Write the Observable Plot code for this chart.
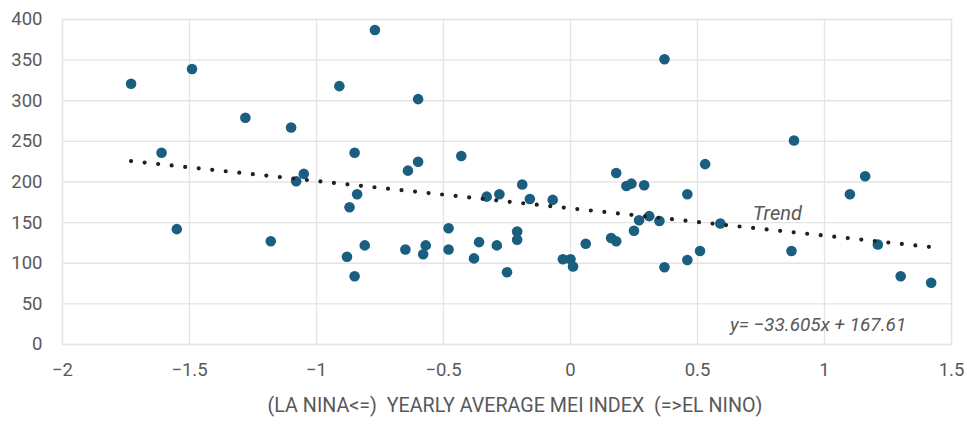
<!DOCTYPE html>
<html><head><meta charset="utf-8">
<script src="https://cdn.jsdelivr.net/npm/d3@7"></script>
<script src="https://cdn.jsdelivr.net/npm/@observablehq/plot@0.6"></script>
<style>
body{margin:0;background:#fff}
#chart svg{display:block}
</style></head><body><div id="chart"></div>
<script>
// Yearly average MEI index (x) and value (y)
const mei = [-1.73,-1.49,-1.28,-1.10,-1.61,-0.91,-0.77,-0.85,-1.05,-1.08,-0.84,-0.60,-0.64,-0.60,-0.43,-0.19,-0.28,-0.33,-0.16,-0.07,0.18,0.22,-0.87,-0.88,-0.81,-0.85,-0.65,-0.57,-0.58,-0.48,-0.48,-0.38,-0.36,-0.29,-0.25,-0.21,-0.21,-0.03,0.00,0.01,0.06,0.16,0.18,0.53,0.24,0.29,0.46,0.27,0.31,0.35,0.25,0.59,0.37,0.46,0.51,0.87,1.10,1.16,1.21,1.30,1.42,0.37,0.88,-1.55,-1.18];
const value = [321,339,279,267,236,318,387,236,210,201,185,302,214,225,232,197,185,182,179,178,211,195,169,108,122,84,117,122,111,143,117,106,126,122,89,139,129,105,105,96,124,131,127,222,198,196,185,153,158,152,140,149,95,104,115,115,185,207,123,84,76,351,251,142,127];
const xTicks = [-2,-1.5,-1,-0.5,0,0.5,1,1.5];
const yTicks = [0,50,100,150,200,250,300,350,400];
const trendSlope = -33.605;
const trendIntercept = 167.61;
const xLabel = "(LA NINA<=)  YEARLY AVERAGE MEI INDEX  (=>EL NINO)";
const trendLabel = "Trend";
const equationLabel = "y= \u221233.605x + 167.61";

const points = mei.map((x, i) => ({x, y: value[i]}));
const xr = d3.extent(mei);
const trend = xr.map(x => ({x, y: trendSlope * x + trendIntercept}));
const fmt = d => d < 0 ? "\u2212" + Math.abs(d) : String(d);
const gridColor = "#e4e4e4";
const textColor = "#595959";

const chart = Plot.plot({
  width: 967, height: 424,
  marginLeft: 62, marginRight: 16, marginTop: 19, marginBottom: 80,
  style: {fontFamily: "Roboto, 'Open Sans', sans-serif", fontSize: "18.5px", color: textColor, background: "#fff"},
  x: {domain: [-2, 1.5]},
  y: {domain: [0, 400]},
  marks: [
    Plot.gridX(xTicks, {stroke: gridColor, strokeOpacity: 1, strokeWidth: 1.3}),
    Plot.gridY(yTicks, {stroke: gridColor, strokeOpacity: 1, strokeWidth: 1.3}),
    Plot.frame({stroke: gridColor, strokeWidth: 1.3}),
    Plot.axisX(xTicks, {tickSize: 0, tickPadding: 18, tickFormat: fmt, label: null, fill: textColor}),
    Plot.axisY(yTicks, {tickSize: 0, tickPadding: 20, tickFormat: fmt, label: null, fill: textColor}),
    Plot.dot(points, {x: "x", y: "y", r: 5.3, fill: "#1a5f80", stroke: "none"}),
    Plot.line(trend, {x: "x", y: "y", stroke: "#231f20", strokeWidth: 4.2, strokeDasharray: "0 13.6", strokeLinecap: "round"}),
    Plot.text([trendLabel], {x: 0.814, y: 161, text: d => d, fontStyle: "italic", fill: textColor, fontSize: 20}),
    Plot.text([equationLabel], {x: 0.975, y: 24, text: d => d, fontStyle: "italic", fill: textColor, fontSize: 19}),
    Plot.text([xLabel], {frameAnchor: "bottom", dy: 67, dx: 8, text: d => d, fill: textColor, fontSize: 19.7})
  ]
});
document.getElementById("chart").append(chart);
</script>
</body></html>
